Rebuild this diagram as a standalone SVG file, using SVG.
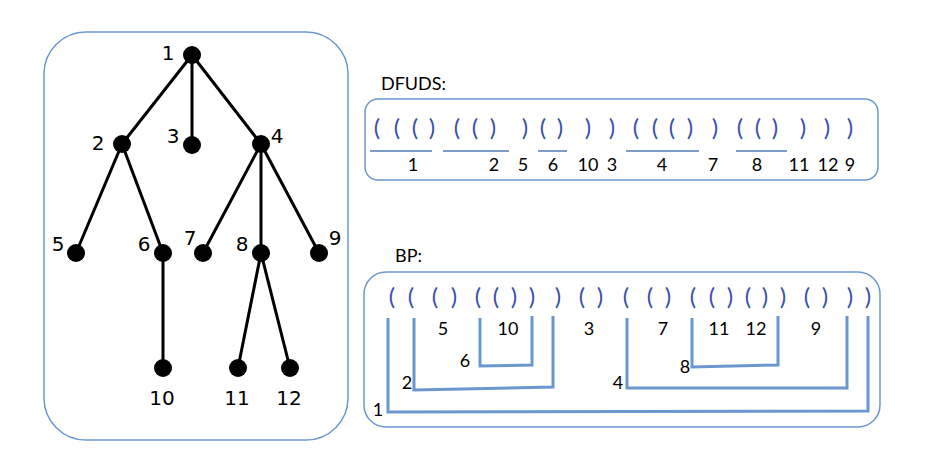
<svg xmlns="http://www.w3.org/2000/svg" width="945" height="463" viewBox="0 0 945 463">
<style>
.panel{fill:#fff;stroke:#6b98d0;stroke-width:1.5}
.edge{stroke:#000;stroke-width:3}
.dot{fill:#000}
.tl{font-family:"DejaVu Sans",Verdana,sans-serif;font-size:20px;fill:#000;text-anchor:middle}
.hd{font-family:Lato,"Liberation Sans",sans-serif;font-size:18px;fill:#000}
.p{font-family:Lato,"Liberation Sans",sans-serif;font-size:24px;fill:#3a50a8;text-anchor:middle}
.n{font-family:Lato,"Liberation Sans",sans-serif;font-size:18px;fill:#000;text-anchor:middle}
.ul{stroke:#7d9cc6;stroke-width:2}
.br{fill:none;stroke:#6a97cf;stroke-width:3}
</style>
<rect class="panel" x="44" y="32" width="304" height="408" rx="42"/>
<g id="connectors">
<line class="edge" x1="192" y1="55" x2="122" y2="144"/>
<line class="edge" x1="192" y1="55" x2="192" y2="145"/>
<line class="edge" x1="192" y1="55" x2="261" y2="144"/>
<line class="edge" x1="122" y1="144" x2="76" y2="253"/>
<line class="edge" x1="122" y1="144" x2="163" y2="253"/>
<line class="edge" x1="261" y1="144" x2="203" y2="253"/>
<line class="edge" x1="261" y1="144" x2="261" y2="253"/>
<line class="edge" x1="261" y1="144" x2="319" y2="253"/>
<line class="edge" x1="163" y1="253" x2="163" y2="368"/>
<line class="edge" x1="261" y1="253" x2="238" y2="368"/>
<line class="edge" x1="261" y1="253" x2="290" y2="368"/>
</g>
<g id="n1"><circle class="dot" cx="192" cy="55" r="9"/><text class="tl" x="168" y="60">1</text></g>
<g id="n2"><circle class="dot" cx="122" cy="144" r="9"/><text class="tl" x="98" y="150">2</text></g>
<g id="n3"><circle class="dot" cx="192" cy="145" r="9"/><text class="tl" x="173" y="143">3</text></g>
<g id="n4"><circle class="dot" cx="261" cy="144" r="9"/><text class="tl" x="277" y="143">4</text></g>
<g id="n5"><circle class="dot" cx="76" cy="253" r="9"/><text class="tl" x="58" y="251">5</text></g>
<g id="n6"><circle class="dot" cx="163" cy="253" r="9"/><text class="tl" x="144" y="251">6</text></g>
<g id="n7"><circle class="dot" cx="203" cy="253" r="9"/><text class="tl" x="190" y="245">7</text></g>
<g id="n8"><circle class="dot" cx="261" cy="253" r="9"/><text class="tl" x="242" y="251">8</text></g>
<g id="n9"><circle class="dot" cx="319" cy="253" r="9"/><text class="tl" x="335" y="245">9</text></g>
<g id="n10"><circle class="dot" cx="163" cy="368" r="9"/><text class="tl" x="162" y="405">10</text></g>
<g id="n11"><circle class="dot" cx="238" cy="368" r="9"/><text class="tl" x="237" y="405">11</text></g>
<g id="n12"><circle class="dot" cx="290" cy="368" r="9"/><text class="tl" x="289" y="405">12</text></g>

<g id="dfuds">
<text class="hd" x="381" y="90">DFUDS:</text>
<rect class="panel" x="365" y="99" width="513" height="81" rx="13"/>
<g class="parens">
<text class="p" x="377" y="136">(</text><text class="p" x="397" y="136">(</text><text class="p" x="415" y="136">(</text><text class="p" x="432" y="136">)</text>
<text class="p" x="457" y="136">(</text><text class="p" x="475" y="136">(</text><text class="p" x="493" y="136">)</text><text class="p" x="525" y="136">)</text>
<text class="p" x="543" y="136">(</text><text class="p" x="560" y="136">)</text><text class="p" x="588" y="136">)</text><text class="p" x="612" y="136">)</text>
<text class="p" x="636" y="136">(</text><text class="p" x="655" y="136">(</text><text class="p" x="672" y="136">(</text><text class="p" x="690" y="136">)</text>
<text class="p" x="715" y="136">)</text><text class="p" x="740" y="136">(</text><text class="p" x="758" y="136">(</text><text class="p" x="775" y="136">)</text>
<text class="p" x="803" y="136">)</text><text class="p" x="827" y="136">)</text><text class="p" x="850" y="136">)</text>
</g>
<line class="ul" x1="370" y1="151" x2="432" y2="151"/>
<line class="ul" x1="443" y1="151" x2="509" y2="151"/>
<line class="ul" x1="538" y1="151" x2="567" y2="151"/>
<line class="ul" x1="626" y1="151" x2="699" y2="151"/>
<line class="ul" x1="736" y1="151" x2="787" y2="151"/>
<text class="n" x="413" y="171">1</text><text class="n" x="494" y="171">2</text><text class="n" x="523" y="171">5</text>
<text class="n" x="553" y="171">6</text><text class="n" x="588" y="171">10</text><text class="n" x="612" y="171">3</text>
<text class="n" x="662" y="171">4</text><text class="n" x="713" y="171">7</text><text class="n" x="757" y="171">8</text>
<text class="n" x="799" y="171">11</text><text class="n" x="828" y="171">12</text><text class="n" x="850" y="171">9</text>
</g>

<g id="bp">
<text class="hd" x="395" y="262">BP:</text>
<rect class="panel" x="364" y="272" width="516" height="155" rx="22"/>
<g class="parens">
<text class="p" x="392" y="305">(</text><text class="p" x="411" y="305">(</text><text class="p" x="435" y="305">(</text><text class="p" x="454" y="305">)</text>
<text class="p" x="478" y="305">(</text><text class="p" x="496" y="305">(</text><text class="p" x="514" y="305">)</text><text class="p" x="532" y="305">)</text>
<text class="p" x="558" y="305">)</text><text class="p" x="582" y="305">(</text><text class="p" x="600" y="305">)</text><text class="p" x="626" y="305">(</text>
<text class="p" x="650" y="305">(</text><text class="p" x="668" y="305">)</text><text class="p" x="693" y="305">(</text><text class="p" x="712" y="305">(</text>
<text class="p" x="730" y="305">)</text><text class="p" x="748" y="305">(</text><text class="p" x="765" y="305">)</text><text class="p" x="783" y="305">)</text>
<text class="p" x="807" y="305">(</text><text class="p" x="825" y="305">)</text><text class="p" x="850" y="305">)</text><text class="p" x="868" y="305">)</text>
</g>
<path class="br" d="M388 318 V412 L868 411 V316"/>
<path class="br" d="M414 318 V390 L553 387 V316"/>
<path class="br" d="M480 318 V366 L532 365 V316"/>
<path class="br" d="M627 318 V388 L847 388 V316"/>
<path class="br" d="M692 318 V367 L778 365 V316"/>
<text class="n" x="443" y="335">5</text><text class="n" x="508" y="335">10</text><text class="n" x="589" y="335">3</text>
<text class="n" x="663" y="335">7</text><text class="n" x="719" y="335">11</text><text class="n" x="756" y="335">12</text>
<text class="n" x="816" y="335">9</text>
<text class="n" x="465" y="367">6</text><text class="n" x="407" y="389">2</text><text class="n" x="378" y="416">1</text>
<text class="n" x="618" y="389">4</text><text class="n" x="685" y="373">8</text>
</g>
</svg>
